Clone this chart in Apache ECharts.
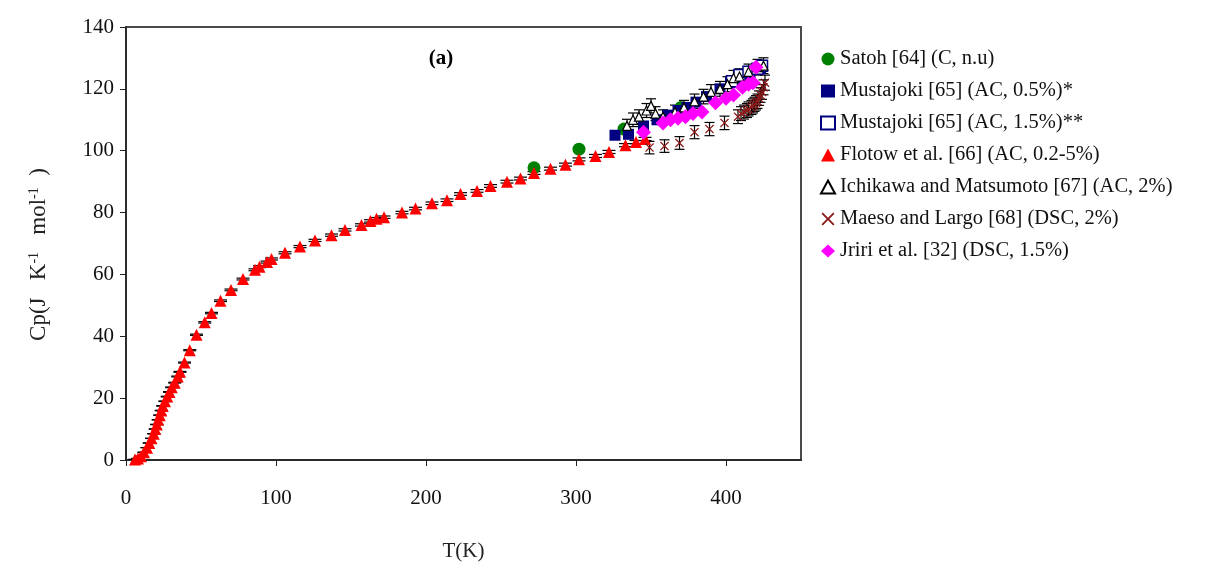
<!DOCTYPE html>
<html>
<head>
<meta charset="utf-8">
<script src="https://cdn.jsdelivr.net/npm/echarts@6/dist/echarts.min.js"></script>
<style>html,body{margin:0;padding:0;background:#fff;}#c{width:1211px;height:568px;}</style>
</head>
<body>
<div id="c"></div>
<script>
// ---- data (T in K, Cp in J K-1 mol-1) ----
const xTicks = [0, 100, 200, 300, 400];
const yTicks = [0, 20, 40, 60, 80, 100, 120, 140];
const seriesNames = [
  'Satoh [64] (C, n.u)',
  'Mustajoki [65] (AC, 0.5%)*',
  'Mustajoki [65] (AC, 1.5%)**',
  'Flotow et al. [66] (AC, 0.2-5%)',
  'Ichikawa and Matsumoto [67] (AC, 2%)',
  'Maeso and Largo [68] (DSC, 2%)',
  'Jriri et al. [32] (DSC, 1.5%)'
];
const satoh = [[272,94.5],[302,100.5],[332,107],[370,114]];
const mustajoki05 = [[326,105],[335,105.3],[345,108],[354,110],[361,111.5],[368,113],[374,114],[380,115.7],[387,117.5],[396,120],[403,122],[410,123.5],[416,125],[423,126.5]];
const mustajoki15 = [[404,122.5],[409,124.5],[415,125.5],[421,126.5],[424,127.5]];
const flotow = [[6,0.2],[8,0.5],[10,1.2],[12,2.5],[14,4],[15.5,5.5],[17,7],[18.5,8.5],[19.5,10],[20.5,11.5],[21.5,13],[22.5,14.5],[23.5,16],[24.5,17.5],[26,19],[27.5,20.5],[29,22],[30.5,23.5],[32.5,25],[34.5,27],[36,28.5],[39,31.5],[42.5,35.5],[47,40.5],[52.5,44.5],[57,47.5],[63,51.5],[70,55],[78,58.5],[86,61.5],[89,62.5],[94,64],[97,65],[106,67],[116,69],[126,71],[137,72.7],[146,74.4],[157,76],[163,77.3],[167,78],[172,78.5],[184,80],[193,81.3],[204,83],[214,84],[223,86],[234,87],[243,88.6],[254,90],[263,91],[272,92.8],[283,94.2],[293,95.5],[302,97.2],[313,98.3],[322,99.6],[333,101.8],[340,102.8],[346,103.8]];
const ichikawa = [[334,108],[338,110],[342,111],[347,113],[350,114.5],[353,112],[358,111],[366,112.5],[372,114],[379,116],[385,117.5],[390,119],[396,120],[401,121.5],[405,123.5],[409,124],[415,125.5],[421,127],[425,127.5]];
const maeso = [[349,101],[359,101.5],[369,102.5],[379,106],[389,107],[399,109],[408,111],[410,112],[412,112.5],[414,113],[415,113.5],[417,114],[418,114.5],[419,115],[420,115.5],[421,116],[422,117],[423,118],[424,119],[425,120.5],[426,122]];
const jriri = [[345,106],[358,109],[363,110],[368,110.5],[373,111],[378,112],[384,112.5],[393,115.5],[400,117],[405,118],[411,120.5],[415,121.5],[418,122],[420,127]];
// relative uncertainty (%) used for error bars
const errFlotow = 0.5, errIchikawa = 2, errMaeso = 2;

const serif = '"Liberation Serif", "DejaVu Serif", serif';
const crossPath = 'path://M0,1 L1,0 L5,4 L9,0 L10,1 L6,5 L10,9 L9,10 L5,6 L1,10 L0,9 L4,5 Z';

function errSeries(name, data, pct, cap, z) {
  return {
    type: 'custom', name: name, silent: true, z: z, data: data,
    encode: {x: 0, y: 1},
    renderItem: function (params, api) {
      const x = api.value(0), y = api.value(1), e = y * pct / 100;
      const t = api.coord([x, y + e]), b = api.coord([x, y - e]);
      const st = {stroke: '#000', lineWidth: 1.2};
      return {type: 'group', children: [
        {type: 'line', shape: {x1: t[0], y1: t[1], x2: b[0], y2: b[1]}, style: st},
        {type: 'line', shape: {x1: t[0] - cap / 2, y1: t[1], x2: t[0] + cap / 2, y2: t[1]}, style: st},
        {type: 'line', shape: {x1: b[0] - cap / 2, y1: b[1], x2: b[0] + cap / 2, y2: b[1]}, style: st}
      ]};
    }
  };
}

const chart = echarts.init(document.getElementById('c'), null, {renderer: 'canvas'});
chart.setOption({
  animation: false,
  backgroundColor: '#fff',
  textStyle: {fontFamily: serif},
  title: {text: '(a)', left: 436, top: 43, textAlign: 'center',
    textStyle: {fontFamily: serif, fontSize: 21, fontWeight: 'bold', color: '#000'}},
  grid: {left: 126, right: 410, top: 27, bottom: 108, show: true, borderColor: '#4a4a4a', borderWidth: 2},
  legend: {
    orient: 'vertical', left: 815, top: 43, itemGap: 10, itemWidth: 14, itemHeight: 13,
    textStyle: {fontFamily: serif, fontSize: 20.5, color: '#111', lineHeight: 22},
    data: seriesNames
  },
  xAxis: {
    type: 'value', min: 0, max: 450, interval: 100,
    name: 'T(K)', nameLocation: 'middle', nameGap: 81,
    nameTextStyle: {fontFamily: serif, fontSize: 21, color: '#222'},
    axisLine: {show: true, lineStyle: {color: '#222', width: 1.5}},
    axisTick: {show: true, length: 6, lineStyle: {color: '#222'}},
    axisLabel: {margin: 28, fontFamily: serif, fontSize: 21, color: '#111', showMaxLabel: false},
    splitLine: {show: false}
  },
  yAxis: {
    type: 'value', min: 0, max: 140, interval: 20,
    name: 'Cp(J   K{sup|-1}   mol{sup|-1}  )', nameLocation: 'middle', nameGap: 76,
    nameTextStyle: {fontFamily: serif, fontSize: 23, color: '#222', padding: [0, 22, 0, 0],
      rich: {sup: {fontFamily: serif, fontSize: 14, verticalAlign: 'top', color: '#222'}}},
    axisLine: {show: true, lineStyle: {color: '#222', width: 1.5}},
    axisTick: {show: true, length: 6, lineStyle: {color: '#222'}},
    axisLabel: {margin: 12, fontFamily: serif, fontSize: 21, color: '#111'},
    splitLine: {show: false}
  },
  series: [
    {type: 'scatter', name: seriesNames[0], data: satoh, symbol: 'circle', symbolSize: 13,
      itemStyle: {color: '#008000', opacity: 1}, z: 2},
    {type: 'scatter', name: seriesNames[1], data: mustajoki05, symbol: 'rect', symbolSize: 11,
      itemStyle: {color: '#000080', opacity: 1}, z: 2},
    {type: 'scatter', name: seriesNames[2], data: mustajoki15, symbol: 'rect', symbolSize: 11,
      itemStyle: {color: '#fff', borderColor: '#000080', borderWidth: 1.5, opacity: 1}, z: 2},
    errSeries('flotow-err', flotow, errFlotow, 13, 2),
    {type: 'scatter', name: seriesNames[3], data: flotow, symbol: 'triangle', symbolSize: 12,
      itemStyle: {color: '#ff0000', opacity: 1}, z: 2},
    errSeries('ichikawa-err', ichikawa, errIchikawa, 10, 2),
    {type: 'scatter', name: seriesNames[4], data: ichikawa, symbol: 'triangle', symbolSize: 9,
      itemStyle: {color: '#fff', borderColor: '#000', borderWidth: 1.2, opacity: 1}, z: 2},
    errSeries('maeso-err', maeso, errMaeso, 10, 2),
    {type: 'scatter', name: seriesNames[5], data: maeso, symbol: crossPath, symbolSize: 9,
      itemStyle: {color: '#8b1a1a', opacity: 1}, z: 2},
    {type: 'scatter', name: seriesNames[6], data: jriri, symbol: 'diamond', symbolSize: 15,
      itemStyle: {color: '#ff00ff', opacity: 1}, z: 2}
  ]
});
</script>
</body>
</html>
